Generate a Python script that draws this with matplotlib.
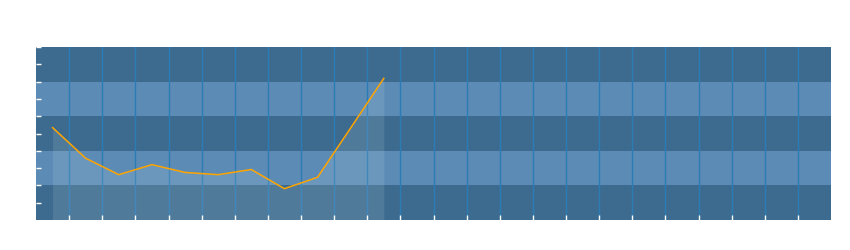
import matplotlib
matplotlib.use("Agg")
import matplotlib.pyplot as plt
import numpy as np

# valores (escala 0-100, 24 categorias, só as 11 primeiras preenchidas)
n_categorias = 24
valores = [53.4, 35.7, 26.2, 32.0, 27.5, 26.2, 29.2, 18.1, 24.7, 53.2, 81.9]
y_ticks = [10, 20, 30, 40, 50, 60, 70, 80, 90, 100]
faixas = [(0, 20), (20, 40), (40, 60), (60, 80), (80, 100)]

cor_escura = "#3d6b8f"
cor_clara = "#5c8cb6"
cor_grade = "#2b7bb5"

fig = plt.figure(figsize=(8.5, 2.5), dpi=100)
ax = fig.add_axes([36/850, 30/250, 795/850, 173/250])

# faixas horizontais alternadas
for i, (a, b) in enumerate(faixas):
    ax.axhspan(a, b, color=cor_escura if i % 2 == 0 else cor_clara, lw=0, zorder=0)

# linhas verticais nas divisões das categorias
for xg in range(1, n_categorias):
    ax.axvline(xg, color=cor_grade, lw=1, zorder=1)

x = np.arange(len(valores)) + 0.5
ax.fill_between(x, 0, valores, color="white", alpha=0.1, lw=0, zorder=2)
ax.plot(x, valores, color="#ffa500", lw=1.1, zorder=3)

ax.set_xlim(0, n_categorias)
ax.set_ylim(0, 100)
ax.set_xticks(range(1, n_categorias))
ax.set_yticks(y_ticks)
ax.tick_params(direction="in", color="white", length=3.5, width=1,
               labelleft=False, labelbottom=False)
for s in ax.spines.values():
    s.set_visible(False)

fig.savefig("out.png", dpi=100)
